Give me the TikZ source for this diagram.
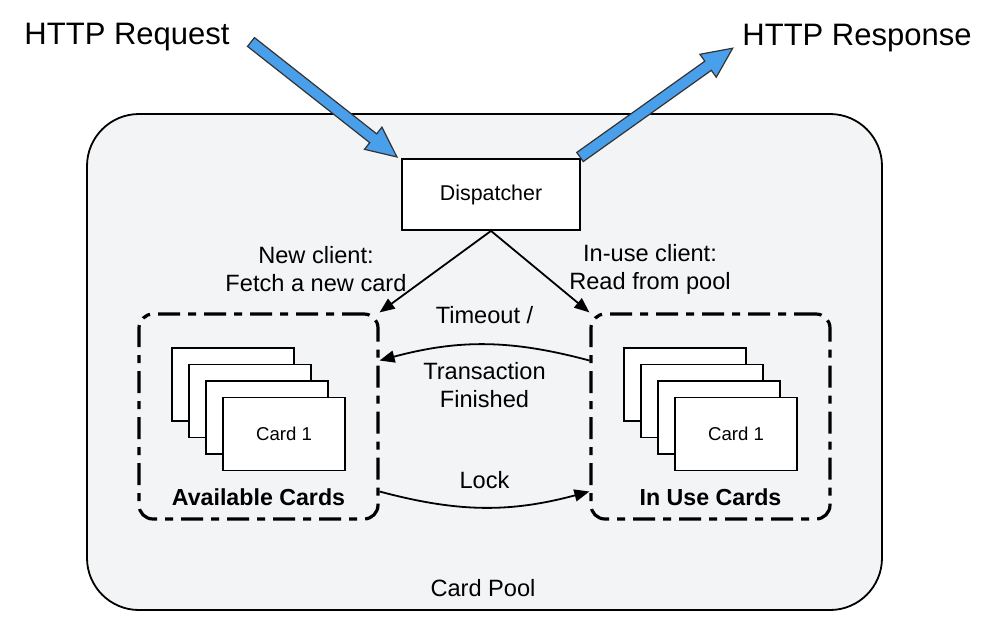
\documentclass[tikz,border=0pt]{standalone}
\usepackage{fontspec}
\setmainfont{Liberation Sans}
\usetikzlibrary{arrows.meta,shapes.arrows,calc}
\definecolor{poolgray}{HTML}{F3F4F6}
\definecolor{netblue}{HTML}{4A9FEA}

\begin{document}
\begin{tikzpicture}[
    x=0.5pt, y=-0.5pt,
    pool/.style={rectangle, draw=black, fill=poolgray, rounded corners=26pt, minimum width=397.5pt, minimum height=248pt, line width=0.9pt},
    disp/.style={rectangle, draw=black, fill=white, minimum width=89pt, minimum height=35.5pt, font=\fontsize{10.7}{13}\selectfont, line width=0.9pt},
    group/.style={rectangle, draw=black, line width=1.6pt, rounded corners=7pt, dash pattern=on 11pt off 4pt on 4pt off 4pt, minimum width=119.5pt, minimum height=102.5pt},
    card/.style={rectangle, draw=black, fill=white, minimum width=61pt, minimum height=36.5pt, font=\fontsize{9.3}{11}\selectfont, line width=0.9pt},
    title/.style={font=\bfseries\fontsize{11.6}{14}\selectfont},
    lbl/.style={align=center, font=\fontsize{11.8}{14}\selectfont},
    big/.style={font=\fontsize{15.5}{18}\selectfont},
    net/.style={single arrow, draw=black!80, fill=netblue, line width=0.6pt, inner xsep=0pt, inner ysep=2.5pt, outer sep=0pt, single arrow head extend=4.25pt, single arrow tip angle=50},
    a/.style={-{Triangle[length=7.5pt,width=6pt]}, line width=0.9pt}
]
    \useasboundingbox (0,0) rectangle (987,629);
    \node[pool] (pool) at (484.5,362) {};
    \node[lbl] (poollbl) at (483,588) {Card Pool};
    \node[disp] (disp) at (491,194.5) {Dispatcher};
    \node[big] (req)  at (127,37) {HTTP Request};
    \node[big] (resp) at (857,38) {HTTP Response};
    \node[lbl] (newlbl)   at (316,269) {New client:\\Fetch a new card};
    \node[lbl] (inuselbl) at (650,269) {In-use client:\\Read from pool};
    \node[group] (avail) at (258.5,416.5) {};
    \node[group] (inuse) at (710.5,416.5) {};
    \node[card] (lcard4) at (233,384.5) {};
    \node[card] (lcard3) at (250,401) {};
    \node[card] (lcard2) at (267,417.5) {};
    \node[card] (lcard1) at (284,434) {Card 1};
    \node[card] (rcard4) at (685,384.5) {};
    \node[card] (rcard3) at (702,401) {};
    \node[card] (rcard2) at (719,417.5) {};
    \node[card] (rcard1) at (736,434) {Card 1};
    \node[title] (availttl) at (258.5,497) {Available Cards};
    \node[title] (inusettl) at (710.5,497) {In Use Cards};
    \draw[a] (disp.south) -- (avail.north east);
    \draw[a] (disp.south) -- (inuse.north west);
    \draw[a] ([yshift=28pt]inuse.west) to[bend right=15]
        node[above=6.5pt, lbl]{Timeout /}
        node[below=5pt, lbl]{Transaction\\Finished} ([yshift=28pt]avail.east);
    \draw[a] ([yshift=-37.5pt]avail.east) to[bend right=15]
        node[above=5.5pt, lbl]{Lock} ([yshift=-37.5pt]inuse.west);
    % blue arrows in and out of the dispatcher
    \coordinate (reqtail)  at (251,42);
    \coordinate (reqtip)   at (397,157);
    \coordinate (resptail) at (580,157);
    \coordinate (resptip)  at (733,48);
    \path let \p1=($(reqtip)-(reqtail)$), \n1={veclen(\x1,\y1)}, \n2={atan2(\y1,\x1)} in
        node[net, minimum height=\n1, rotate=\n2, anchor=tail] (reqarrow) at (reqtail) {};
    \path let \p1=($(resptip)-(resptail)$), \n1={veclen(\x1,\y1)}, \n2={atan2(\y1,\x1)} in
        node[net, minimum height=\n1, rotate=\n2, anchor=tail] (resparrow) at (resptail) {};
\end{tikzpicture}
\end{document}
